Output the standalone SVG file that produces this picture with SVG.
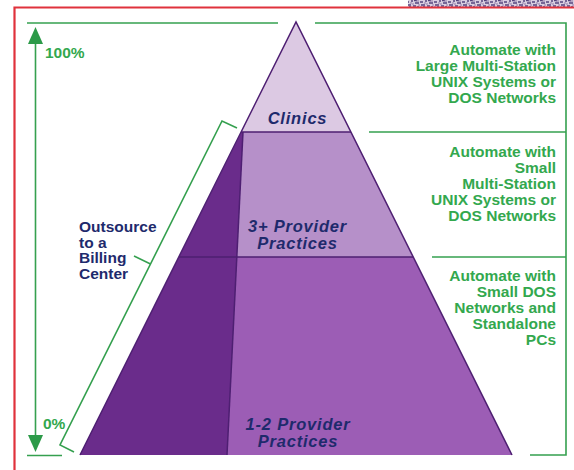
<svg xmlns="http://www.w3.org/2000/svg" width="574" height="470" viewBox="0 0 574 470">
  <defs>
    <style>
      .tier-line { fill: none; stroke: #4e1f72; stroke-width: 1.5; }
      .guide { fill: none; stroke: #35a04f; stroke-width: 1.6; }
      .green-txt { font-family: "Liberation Sans", Arial, sans-serif; font-weight: bold; font-size: 15.5px; fill: #33a84e; }
      .navy-txt { font-family: "Liberation Sans", Arial, sans-serif; font-weight: bold; font-size: 15.5px; fill: #1e2a6c; }
      .tier-txt { font-family: "Liberation Sans", Arial, sans-serif; font-weight: bold; font-style: italic; font-size: 16.5px; letter-spacing: 0.8px; fill: #1e2a6c; text-anchor: middle; }
    </style>
    <marker id="scale-head" viewBox="0 0 17 15" refX="0" refY="7.5" markerWidth="17" markerHeight="15" markerUnits="userSpaceOnUse" orient="auto-start-reverse">
      <path d="M0 0 L17 7.5 L0 15 Z" fill="#2c9a48"/>
    </marker>
    <!-- printed speckle strip along the top edge -->
    <pattern id="speckle" width="14" height="8" patternUnits="userSpaceOnUse">
      <rect width="14" height="8" fill="#d9cfe0"/>
      <path d="M0 2 h3 M5 1 h2 M9 3 h4 M1 5 h4 M7 6 h3 M11 7 h2 M3 7 h2 M8 0.5 h3" stroke="#54447e" stroke-width="1.3"/>
      <path d="M4 3 h2 M10 1 h3 M6 4 h2 M12 5 h2 M0 7 h2" stroke="#8f7ca8" stroke-width="1.1"/>
    </pattern>
  </defs>

  <rect width="574" height="470" fill="#ffffff"/>

  <!-- frame -->
  <rect x="408" y="0" width="166" height="8" fill="url(#speckle)"/>
  <path d="M14.5 470 V7.5 H574" fill="none" stroke="#e0323c" stroke-width="2.2"/>

  <!-- pyramid tiers -->
  <g id="tier-clinics">
    <polygon points="296,22 241,132 351,132" fill="#dcc9e3"/>
    <text class="tier-txt" x="297.5" y="124">Clinics</text>
  </g>
  <g id="tier-3plus">
    <polygon points="241,132 351,132 413,257 179,257" fill="#b690c9"/>
    <text class="tier-txt" x="297.5" y="232">3+ Provider</text>
    <text class="tier-txt" x="297.5" y="249">Practices</text>
  </g>
  <g id="tier-1to2">
    <polygon points="179,257 413,257 512,455 80,455" fill="#9c5db5"/>
    <text class="tier-txt" x="298" y="430">1-2 Provider</text>
    <text class="tier-txt" x="298" y="447">Practices</text>
  </g>
  <g id="billing-share">
    <polygon points="241.5,132 243,132 227,455 80,455" fill="#6a2c8b"/>
  </g>
  <g id="tier-outlines">
    <path class="tier-line" d="M80 455 L296 22 L512 455"/>
    <path class="tier-line" d="M241 132 H351 M179 257 H413"/>
    <path class="tier-line" d="M243 132 L227 455" stroke-width="1"/>
  </g>

  <!-- side labels -->
  <g id="label-outsource">
    <text class="navy-txt" x="79" y="232">Outsource</text>
    <text class="navy-txt" x="79" y="247.5">to a</text>
    <text class="navy-txt" x="79" y="263">Billing</text>
    <text class="navy-txt" x="79" y="279">Center</text>
  </g>
  <g id="label-scale">
    <text class="green-txt" x="45" y="58" font-size="15px">100%</text>
    <text class="green-txt" x="43" y="429" font-size="15px">0%</text>
  </g>
  <g id="label-large" text-anchor="end">
    <text class="green-txt" x="556" y="55">Automate with</text>
    <text class="green-txt" x="556" y="71">Large Multi-Station</text>
    <text class="green-txt" x="556" y="87">UNIX Systems or</text>
    <text class="green-txt" x="556" y="103">DOS Networks</text>
  </g>
  <g id="label-small" text-anchor="end">
    <text class="green-txt" x="556" y="157">Automate with</text>
    <text class="green-txt" x="556" y="173">Small</text>
    <text class="green-txt" x="556" y="189">Multi-Station</text>
    <text class="green-txt" x="556" y="205">UNIX Systems or</text>
    <text class="green-txt" x="556" y="221">DOS Networks</text>
  </g>
  <g id="label-standalone" text-anchor="end">
    <text class="green-txt" x="556" y="281">Automate with</text>
    <text class="green-txt" x="556" y="297">Small DOS</text>
    <text class="green-txt" x="556" y="313">Networks and</text>
    <text class="green-txt" x="556" y="329">Standalone</text>
    <text class="green-txt" x="556" y="345">PCs</text>
  </g>

  <!-- connectors: scale arrow, bracket, right-hand brackets -->
  <g id="connectors">
    <path class="guide" d="M27 23 H278"/>
    <path class="guide" d="M27 455.5 H62"/>
    <path class="guide" d="M35.5 44 V435" marker-start="url(#scale-head)" marker-end="url(#scale-head)"/>
    <path class="guide" d="M237 128 L222 121 L60 445 L74 452"/>
    <path class="guide" d="M150.5 264 L134 256"/>
    <path class="guide" d="M315 23 H566 V455 H530"/>
    <path class="guide" d="M369 132 H566"/>
    <path class="guide" d="M432 257 H566"/>
  </g>
</svg>
